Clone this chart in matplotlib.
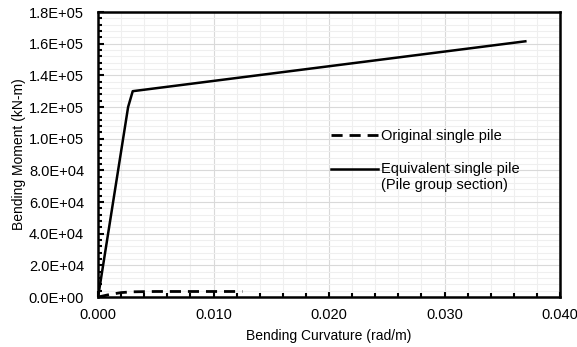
import matplotlib
matplotlib.use('Agg')
import matplotlib.pyplot as plt
from matplotlib.ticker import MultipleLocator, FuncFormatter
from matplotlib.legend_handler import HandlerLine2D
from matplotlib.transforms import Affine2D

plt.rcParams['font.family'] = ['Liberation Sans', 'DejaVu Sans']

# Moment-curvature data
orig_curv = [0.0, 0.0005, 0.001, 0.002, 0.003, 0.005, 0.008, 0.0125]
orig_moment = [0.0, 800, 1600, 2800, 3300, 3500, 3500, 3500]

equiv_curv = [0.0, 0.0026, 0.003, 0.037]
equiv_moment = [0.0, 1.2e5, 1.3e5, 1.615e5]


# legend handle lined up with the first line of a two-line label
class TopLineHandler(HandlerLine2D):
    def create_artists(self, legend, orig_handle, xdescent, ydescent, width, height,
                       fontsize, trans):
        trans = trans + Affine2D().translate(0, 8)
        return super().create_artists(legend, orig_handle, xdescent, ydescent, width,
                                      height, fontsize, trans)


fig = plt.figure(figsize=(5.77, 3.47), dpi=100)
ax = fig.add_axes([0.170, 0.144, 0.8005, 0.8214])

l1, = ax.plot(orig_curv, orig_moment, color='black', linestyle=(0, (4, 2.5)), linewidth=2,
              label='Original single pile')
l2, = ax.plot(equiv_curv, equiv_moment, color='black', linestyle='-', linewidth=1.8,
              label='Equivalent single pile\n(Pile group section)')

ax.set_xlim(0, 0.04)
ax.set_ylim(0, 1.8e5)
ax.xaxis.set_major_locator(MultipleLocator(0.01))
ax.xaxis.set_minor_locator(MultipleLocator(0.002))
ax.yaxis.set_major_locator(MultipleLocator(2e4))
ax.yaxis.set_minor_locator(MultipleLocator(4e3))
ax.xaxis.set_major_formatter(FuncFormatter(lambda v, p: f'{v:.3f}'))
ax.yaxis.set_major_formatter(FuncFormatter(lambda v, p: f'{v:.1E}'))

ax.grid(True, which='major', color='#d9d9d9', linewidth=0.8)
ax.grid(True, which='minor', color='#efefef', linewidth=0.8)
ax.set_axisbelow(True)

for s in ax.spines.values():
    s.set_linewidth(1.8)
ax.tick_params(which='both', direction='in', width=1.5, labelsize=10.5)
ax.tick_params(axis='x', which='major', pad=8)
ax.tick_params(axis='y', which='major', pad=10)
ax.tick_params(which='major', length=4)
ax.tick_params(which='minor', length=3)

ax.set_xlabel('Bending Curvature (rad/m)', fontsize=10, labelpad=5)
ax.set_ylabel('Bending Moment (kN-m)', fontsize=10, labelpad=2)

ax.legend(handles=[l1, l2], loc='upper left', bbox_to_anchor=(0.476, 0.636), frameon=False,
          fontsize=10.5, handlelength=3.2, handletextpad=0.2, labelspacing=1.3,
          handler_map={l2: TopLineHandler()})

fig.savefig('out.png', dpi=100)
